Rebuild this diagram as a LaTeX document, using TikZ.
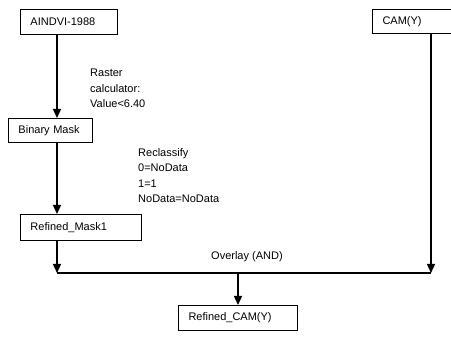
\documentclass[tikz,border=0pt]{standalone}
\usepackage{fontspec}
\setmainfont{Liberation Sans}
\usetikzlibrary{arrows.meta}

\begin{document}
\begin{tikzpicture}[
  x=1pt,y=-1pt,
  font=\fontsize{11}{15.5}\selectfont,
  box/.style={rectangle,draw=black,line width=1pt,fill=white,
    inner xsep=10pt,inner ysep=0pt,minimum height=25pt,
    align=left,anchor=north west},
  arr/.style={-{Triangle[length=9pt,width=8pt]},line width=1.4pt},
  link/.style={line width=1.4pt},
  lbl/.style={align=left,inner sep=0pt,anchor=north west}
]
  \useasboundingbox (0,0) rectangle (451,337);

  \node[box,text width=77pt] (aindvi) at (20,9) {AINDVI-1988};
  \node[box,text width=64pt,minimum height=24pt] (binmask) at (8,118) {Binary Mask};
  \node[box,text width=101pt,minimum height=26pt] (refmask) at (20,214) {Refined\_Mask1};
  \node[box,text width=90pt,minimum height=24pt] (cam) at (372,9) {CAM(Y)};
  \node[box,text width=99pt] (refcam) at (178,305) {Refined\_CAM(Y)};

  \coordinate (spine) at (57,0);
  \coordinate (joinl) at (57,273);
  \coordinate (joinr) at (431,273);

  \draw[arr] (aindvi.south -| spine) -- (binmask.north -| spine);
  \draw[arr] (binmask.south -| spine) -- (refmask.north -| spine);
  \draw[arr] (refmask.south -| spine) -- (joinl);
  \draw[arr] (cam.south -| joinr) -- (joinr);
  \draw[link] (joinl) -- (joinr);
  \draw[arr] (refcam.north |- joinl) -- (refcam.north);

  \node[lbl] (rastercalc) at (90,69) {Raster\\calculator:\\Value<6.40};
  \node[lbl] (reclass) at (138,148) {Reclassify\\0=NoData\\1=1\\NoData=NoData};
  \node[lbl] (overlay) at (211,251) {Overlay (AND)};
\end{tikzpicture}
\end{document}
